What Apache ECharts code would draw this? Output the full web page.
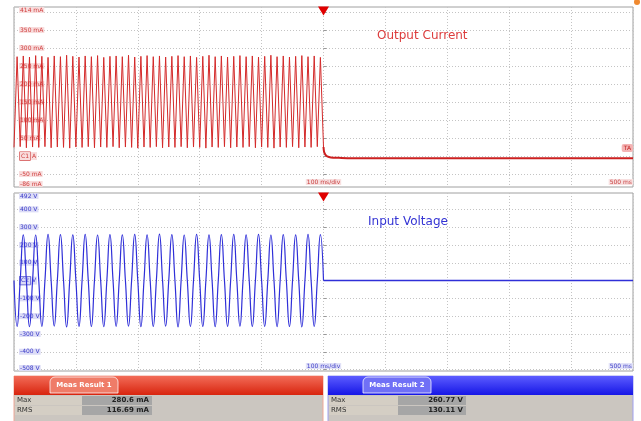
<!DOCTYPE html>
<html>
<head>
<meta charset="utf-8">
<title>Output Current / Input Voltage</title>
<script src="https://cdn.jsdelivr.net/npm/echarts@6.0.0/dist/echarts.min.js"></script>
<style>
  html, body { margin: 0; padding: 0; background: #fff; }
  #scope { width: 641px; height: 421px; }
</style>
</head>
<body>
<div id="scope"></div>
<script>
// sampled traces, one value every 5 ms starting at -500 ms
var timeStartMs = -500;
var sampleStepMs = 5;

// output current (mA), before the trigger
var currentSamples = [
  24, 276, 26, 278, 23, 275, 25, 279, 24, 277, 26, 274, 23, 278, 25, 276, 24, 280, 22, 277,
  25, 275, 24, 278, 26, 276, 23, 279, 25, 274, 24, 277, 26, 278, 23, 276, 25, 280, 24, 275,
  22, 277, 25, 279, 24, 276, 26, 278, 23, 275, 25, 277, 24, 279, 26, 276, 23, 278, 25, 274,
  24, 277, 22, 280, 25, 276, 24, 278, 26, 275, 23, 277, 25, 279, 24, 276, 26, 278, 23, 275,
  25, 277, 24, 280, 22, 276, 25, 278, 24, 275, 26, 277, 23, 279, 25, 276, 24, 278, 26, 274,
  25
];
// current after the trigger (decay to ~ -6 mA)
var currentTailTimes = [1, 3, 6, 12, 25, 45, 500];
var currentTailValues = [11, 4, -1, -4, -5, -6, -6];

// input voltage (V), before the trigger
var voltageSamples = [
  0, -258, 0, 257, 0, -259, 0, 256, 0, -257, 0, 259, 0, -256, 0, 258, 0, -260, 0, 257,
  0, -257, 0, 260, 0, -258, 0, 256, 0, -259, 0, 258, 0, -257, 0, 257, 0, -256, 0, 259,
  0, -259, 0, 257, 0, -258, 0, 261, 0, -256, 0, 258, 0, -260, 0, 256, 0, -257, 0, 259,
  0, -258, 0, 257, 0, -259, 0, 258, 0, -257, 0, 260, 0, -256, 0, 257, 0, -258, 0, 259,
  0, -257, 0, 256, 0, -259, 0, 258, 0, -258, 0, 257, 0, -260, 0, 259, 0, -257, 0, 258,
  0
];
var voltageTailTimes = [1, 500];
var voltageTailValues = [0, 0];

// axis scales / labels
var currentRange = [-86, 414];
var currentGridValues = [-50, 0, 50, 100, 150, 200, 250, 300, 350, 400];
var currentLabelValues = [-86, -50, 0, 50, 100, 150, 200, 250, 300, 350, 414];
var voltageRange = [-508, 492];
var voltageGridValues = [-500, -400, -300, -200, -100, 0, 100, 200, 300, 400];
var voltageLabelValues = [-508, -400, -300, -200, -100, 0, 100, 200, 300, 400, 492];
var timeLabelValues = [0, 500];

// measurement table
var measNames = ['Max', 'RMS'];
var meas1Values = ['280.6 mA', '116.69 mA'];
var meas2Values = ['260.77 V', '130.11 V'];

function toPairs(values) {
  var out = [];
  for (var i = 0; i < values.length; i++) {
    out.push([timeStartMs + i * sampleStepMs, values[i]]);
  }
  return out;
}
function zipPairs(xs, ys) {
  var out = [];
  for (var i = 0; i < xs.length; i++) out.push([xs[i], ys[i]]);
  return out;
}

var FONT = 'DejaVu Sans';
var RED = '#d42a2a';
var BLUE = '#2f2fd8';

function fmtCurrent(v) {
  if (v === 0) return '{c|C1} A';
  return v + ' mA';
}
function fmtVoltage(v) {
  if (v === 0) return '{c|C2} V';
  return v + ' V';
}

function yAxisFor(idx, range, gridVals, labelVals, color, bg, fmt) {
  return {
    gridIndex: idx,
    type: 'value',
    min: range[0],
    max: range[1],
    axisLine: { show: false },
    axisTick: { show: true, inside: true, length: 3, customValues: gridVals, lineStyle: { color: '#999' } },
    splitLine: { show: true, lineStyle: { color: '#c4c4c4', type: [1, 2], width: 1 } },
    axisLabel: {
      inside: true,
      customValues: labelVals,
      margin: 5,
      fontSize: 6,
      fontFamily: FONT,
      color: color,
      backgroundColor: bg,
      padding: [0, 1],
      verticalAlignMinLabel: 'bottom',
      verticalAlignMaxLabel: 'top',
      formatter: fmt,
      rich: {
        c: { fontSize: 6, color: color, backgroundColor: bg, borderColor: color, borderWidth: 0.6, padding: [1, 1] }
      }
    }
  };
}

function xAxisFor(idx, color, bg) {
  return {
    gridIndex: idx,
    type: 'value',
    min: -500,
    max: 500,
    interval: 100,
    axisLine: { show: false },
    axisTick: { show: false },
    splitLine: { show: true, lineStyle: { color: '#c4c4c4', type: [1, 2], width: 1 } },
    axisLabel: {
      inside: true,
      customValues: timeLabelValues,
      margin: 2,
      fontSize: 6,
      fontFamily: FONT,
      color: color,
      backgroundColor: bg,
      padding: [0, 1],
      alignMaxLabel: 'right',
      formatter: function (v) { return v === 0 ? '100 ms/div' : '500 ms'; }
    }
  };
}

var trigger = {
  symbol: 'triangle',
  symbolRotate: 180,
  symbolSize: [11, 9],
  symbolOffset: [0, 4],
  itemStyle: { color: '#e00000' },
  label: { show: false },
  silent: true
};

// measurement boxes drawn as graphic elements
function measBox(x0, x1, top, tabX, col, head, tabFill, title, values) {
  var els = [];
  var w = x1 - x0;
  els.push({ type: 'rect', shape: { x: x0, y: top, width: w, height: 46 },
    style: { fill: '#cbc6c0', stroke: head[2], lineWidth: 1 } });
  els.push({ type: 'rect', shape: { x: x0, y: top, width: w, height: 19 },
    style: { fill: new echarts.graphic.LinearGradient(0, 0, 0, 1, [
      { offset: 0, color: head[0] }, { offset: 1, color: head[1] }]) } });
  els.push({ type: 'rect', shape: { x: tabX, y: top + 1, width: 68, height: 16, r: [5, 5, 0, 0] },
    style: { fill: tabFill, stroke: 'rgba(255,255,255,0.75)', lineWidth: 1 } });
  els.push({ type: 'text', x: tabX + 34, y: top + 9.5,
    style: { text: title, fill: '#fff', font: 'bold 7px ' + FONT, textAlign: 'center', textVerticalAlign: 'middle' } });
  for (var k = 0; k < measNames.length; k++) {
    var y = top + 20 + k * 10;
    els.push({ type: 'rect', shape: { x: x0 + 1, y: y, width: col[0] - x0 - 1, height: 9 },
      style: { fill: '#d4cec4' } });
    els.push({ type: 'rect', shape: { x: col[0], y: y, width: col[1] - col[0], height: 9 },
      style: { fill: '#a6a6a6' } });
    els.push({ type: 'text', x: x0 + 3, y: y + 4.5,
      style: { text: measNames[k], fill: '#333', font: '7px ' + FONT, textVerticalAlign: 'middle' } });
    els.push({ type: 'text', x: col[1] - 3, y: y + 4.5,
      style: { text: values[k], fill: '#222', font: 'bold 7px ' + FONT, textAlign: 'right', textVerticalAlign: 'middle' } });
  }
  return els;
}

var chart = echarts.init(document.getElementById('scope'));

var option = {
  animation: false,
  backgroundColor: '#fff',
  title: [
    { text: 'Output Current', left: 377, top: 30, padding: 0,
      textStyle: { fontSize: 12, color: '#dc3c3c', fontWeight: 'normal', fontFamily: FONT } },
    { text: 'Input Voltage', left: 368, top: 216, padding: 0,
      textStyle: { fontSize: 12, color: '#3434d4', fontWeight: 'normal', fontFamily: FONT } }
  ],
  grid: [
    { left: 14, right: 8, top: 7, height: 180, show: true, borderColor: '#a0a0a0', borderWidth: 1, backgroundColor: '#fff' },
    { left: 14, right: 8, top: 193, height: 178, show: true, borderColor: '#a0a0a0', borderWidth: 1, backgroundColor: '#fff' }
  ],
  xAxis: [
    xAxisFor(0, '#c84040', '#f8e0e0'),
    xAxisFor(1, '#4040c8', '#e2e2f8')
  ],
  yAxis: [
    yAxisFor(0, currentRange, currentGridValues, currentLabelValues, '#d04040', '#f8dcdc', fmtCurrent),
    yAxisFor(1, voltageRange, voltageGridValues, voltageLabelValues, '#3c3cc8', '#dcdcf6', fmtVoltage)
  ],
  series: [
    {
      name: 'Output Current', type: 'line', xAxisIndex: 0, yAxisIndex: 0,
      data: toPairs(currentSamples), showSymbol: false,
      lineStyle: { color: RED, width: 1 },
      markPoint: Object.assign({ data: [{ coord: [0, currentRange[1]] }] }, trigger)
    },
    {
      name: 'Output Current tail', type: 'line', xAxisIndex: 0, yAxisIndex: 0,
      data: [[0, currentSamples[currentSamples.length - 1]]].concat(zipPairs(currentTailTimes, currentTailValues)),
      showSymbol: false, smooth: 0.3,
      lineStyle: { color: '#cc2020', width: 2 }
    },
    {
      name: 'Input Voltage', type: 'line', xAxisIndex: 1, yAxisIndex: 1,
      data: toPairs(voltageSamples), showSymbol: false, smooth: 0.5,
      lineStyle: { color: BLUE, width: 1.2 },
      markPoint: Object.assign({ data: [{ coord: [0, voltageRange[1]] }] }, trigger)
    },
    {
      name: 'Input Voltage tail', type: 'line', xAxisIndex: 1, yAxisIndex: 1,
      data: [[0, 0]].concat(zipPairs(voltageTailTimes, voltageTailValues)),
      showSymbol: false,
      lineStyle: { color: BLUE, width: 1.5 }
    }
  ],
  graphic: [
    // trigger level tag and corner dot
    { type: 'text', right: 8, top: 144,
      style: { text: 'TA', fill: '#c02020', font: '6px ' + FONT, backgroundColor: '#f4b4b4', padding: [1, 2], borderRadius: 2 } },
    { type: 'circle', shape: { cx: 637, cy: 2, r: 3 }, style: { fill: '#f08a30' } }
  ].concat(
    measBox(14, 323, 376, 50, [82, 152], ['#f26c58', '#d8240e', '#f0a898'], '#ef7c68', 'Meas Result 1', meas1Values),
    measBox(328, 633, 376, 363, [398, 466], ['#5c5cff', '#1616e6', '#a0a0f0'], '#7070f6', 'Meas Result 2', meas2Values)
  )
};

chart.setOption(option);
</script>
</body>
</html>
